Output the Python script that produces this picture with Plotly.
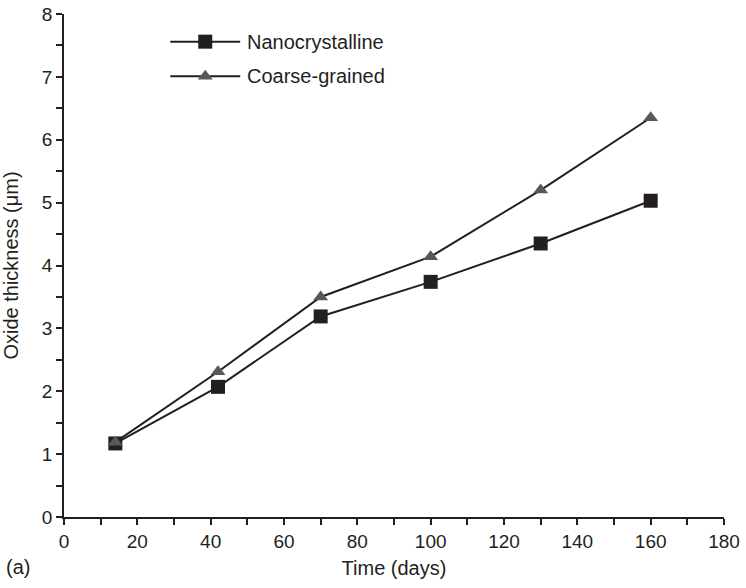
import plotly.graph_objects as go

days = [14, 42, 70, 100, 130, 160]
nano = [1.17, 2.07, 3.19, 3.74, 4.35, 5.03]
coarse = [1.19, 2.31, 3.50, 4.14, 5.20, 6.35]
series_names = ["Nanocrystalline", "Coarse-grained"]

LINE = "#231f20"
TRI = "#58585a"
FONT = "Liberation Sans, Arial, Helvetica, sans-serif"

fig = go.Figure()
fig.add_trace(go.Scatter(x=days, y=nano, mode="lines+markers", name=series_names[0],
                         line=dict(color=LINE, width=2),
                         marker=dict(symbol="square", size=14, color=LINE),
                         showlegend=False, cliponaxis=False))
fig.add_trace(go.Scatter(x=days, y=coarse, mode="lines+markers", name=series_names[1],
                         line=dict(color=LINE, width=2),
                         marker=dict(symbol="triangle-up", size=13, color=TRI),
                         showlegend=False, cliponaxis=False))

# manual legend on overlay axes (0..1 fractions of plot area)
leg_x0, leg_x1, leg_xm = 0.161, 0.267, 0.214
leg_rows = [(0.945, "square", 14, LINE), (0.876, "triangle-up", 13, TRI)]
for (yy, sym, sz, col), nm in zip(leg_rows, series_names):
    fig.add_trace(go.Scatter(x=[leg_x0, leg_xm, leg_x1], y=[yy, yy, yy], mode="lines",
                             line=dict(color=LINE, width=2), xaxis="x2", yaxis="y2",
                             showlegend=False, hoverinfo="skip"))
    fig.add_trace(go.Scatter(x=[leg_xm], y=[yy], mode="markers",
                             marker=dict(symbol=sym, size=sz, color=col), xaxis="x2", yaxis="y2",
                             showlegend=False, hoverinfo="skip"))
    fig.add_annotation(x=leg_x1 + 0.007, y=yy, xref="x2", yref="y2", text=nm, showarrow=False,
                       xanchor="left", yanchor="middle", font=dict(size=20, color=LINE, family=FONT))

tick_common = dict(showgrid=False, zeroline=False, showline=True, linecolor=LINE, linewidth=1.5,
                   ticks="outside", ticklen=6, tickwidth=1.5, tickcolor=LINE,
                   tickfont=dict(size=19), automargin=False, ticklabeloverflow="allow")

fig.update_layout(
    width=746, height=588,
    margin=dict(l=64, r=22, t=14, b=71),
    paper_bgcolor="white", plot_bgcolor="white",
    font=dict(family=FONT, size=20, color=LINE),
    showlegend=False,
    xaxis=dict(range=[0, 180], tickvals=list(range(0, 181, 20)),
               minor=dict(tickvals=list(range(10, 180, 20)), ticks="outside", ticklen=6,
                          tickwidth=1.5, tickcolor=LINE),
               title=dict(text="Time (days)", font=dict(size=20), standoff=10), **tick_common),
    yaxis=dict(range=[0, 8], tickvals=list(range(0, 9)),
               minor=dict(tickvals=[i + 0.5 for i in range(8)], ticks="outside", ticklen=6,
                          tickwidth=1.5, tickcolor=LINE),
               title=dict(text="Oxide thickness (μm)", font=dict(size=20), standoff=21), **tick_common),
    xaxis2=dict(range=[0, 1], overlaying="x", visible=False, fixedrange=True),
    yaxis2=dict(range=[0, 1], overlaying="y", visible=False, fixedrange=True),
)
fig.add_annotation(x=0.0, y=0.0, xref="paper", yref="paper", xshift=-60, yshift=-63,
                   text="(a)", showarrow=False, xanchor="left", yanchor="bottom",
                   font=dict(size=20, color=LINE, family=FONT))

fig.write_html("out.html", config={"displayModeBar": False},
               post_script="document.body.style.margin='0';")
